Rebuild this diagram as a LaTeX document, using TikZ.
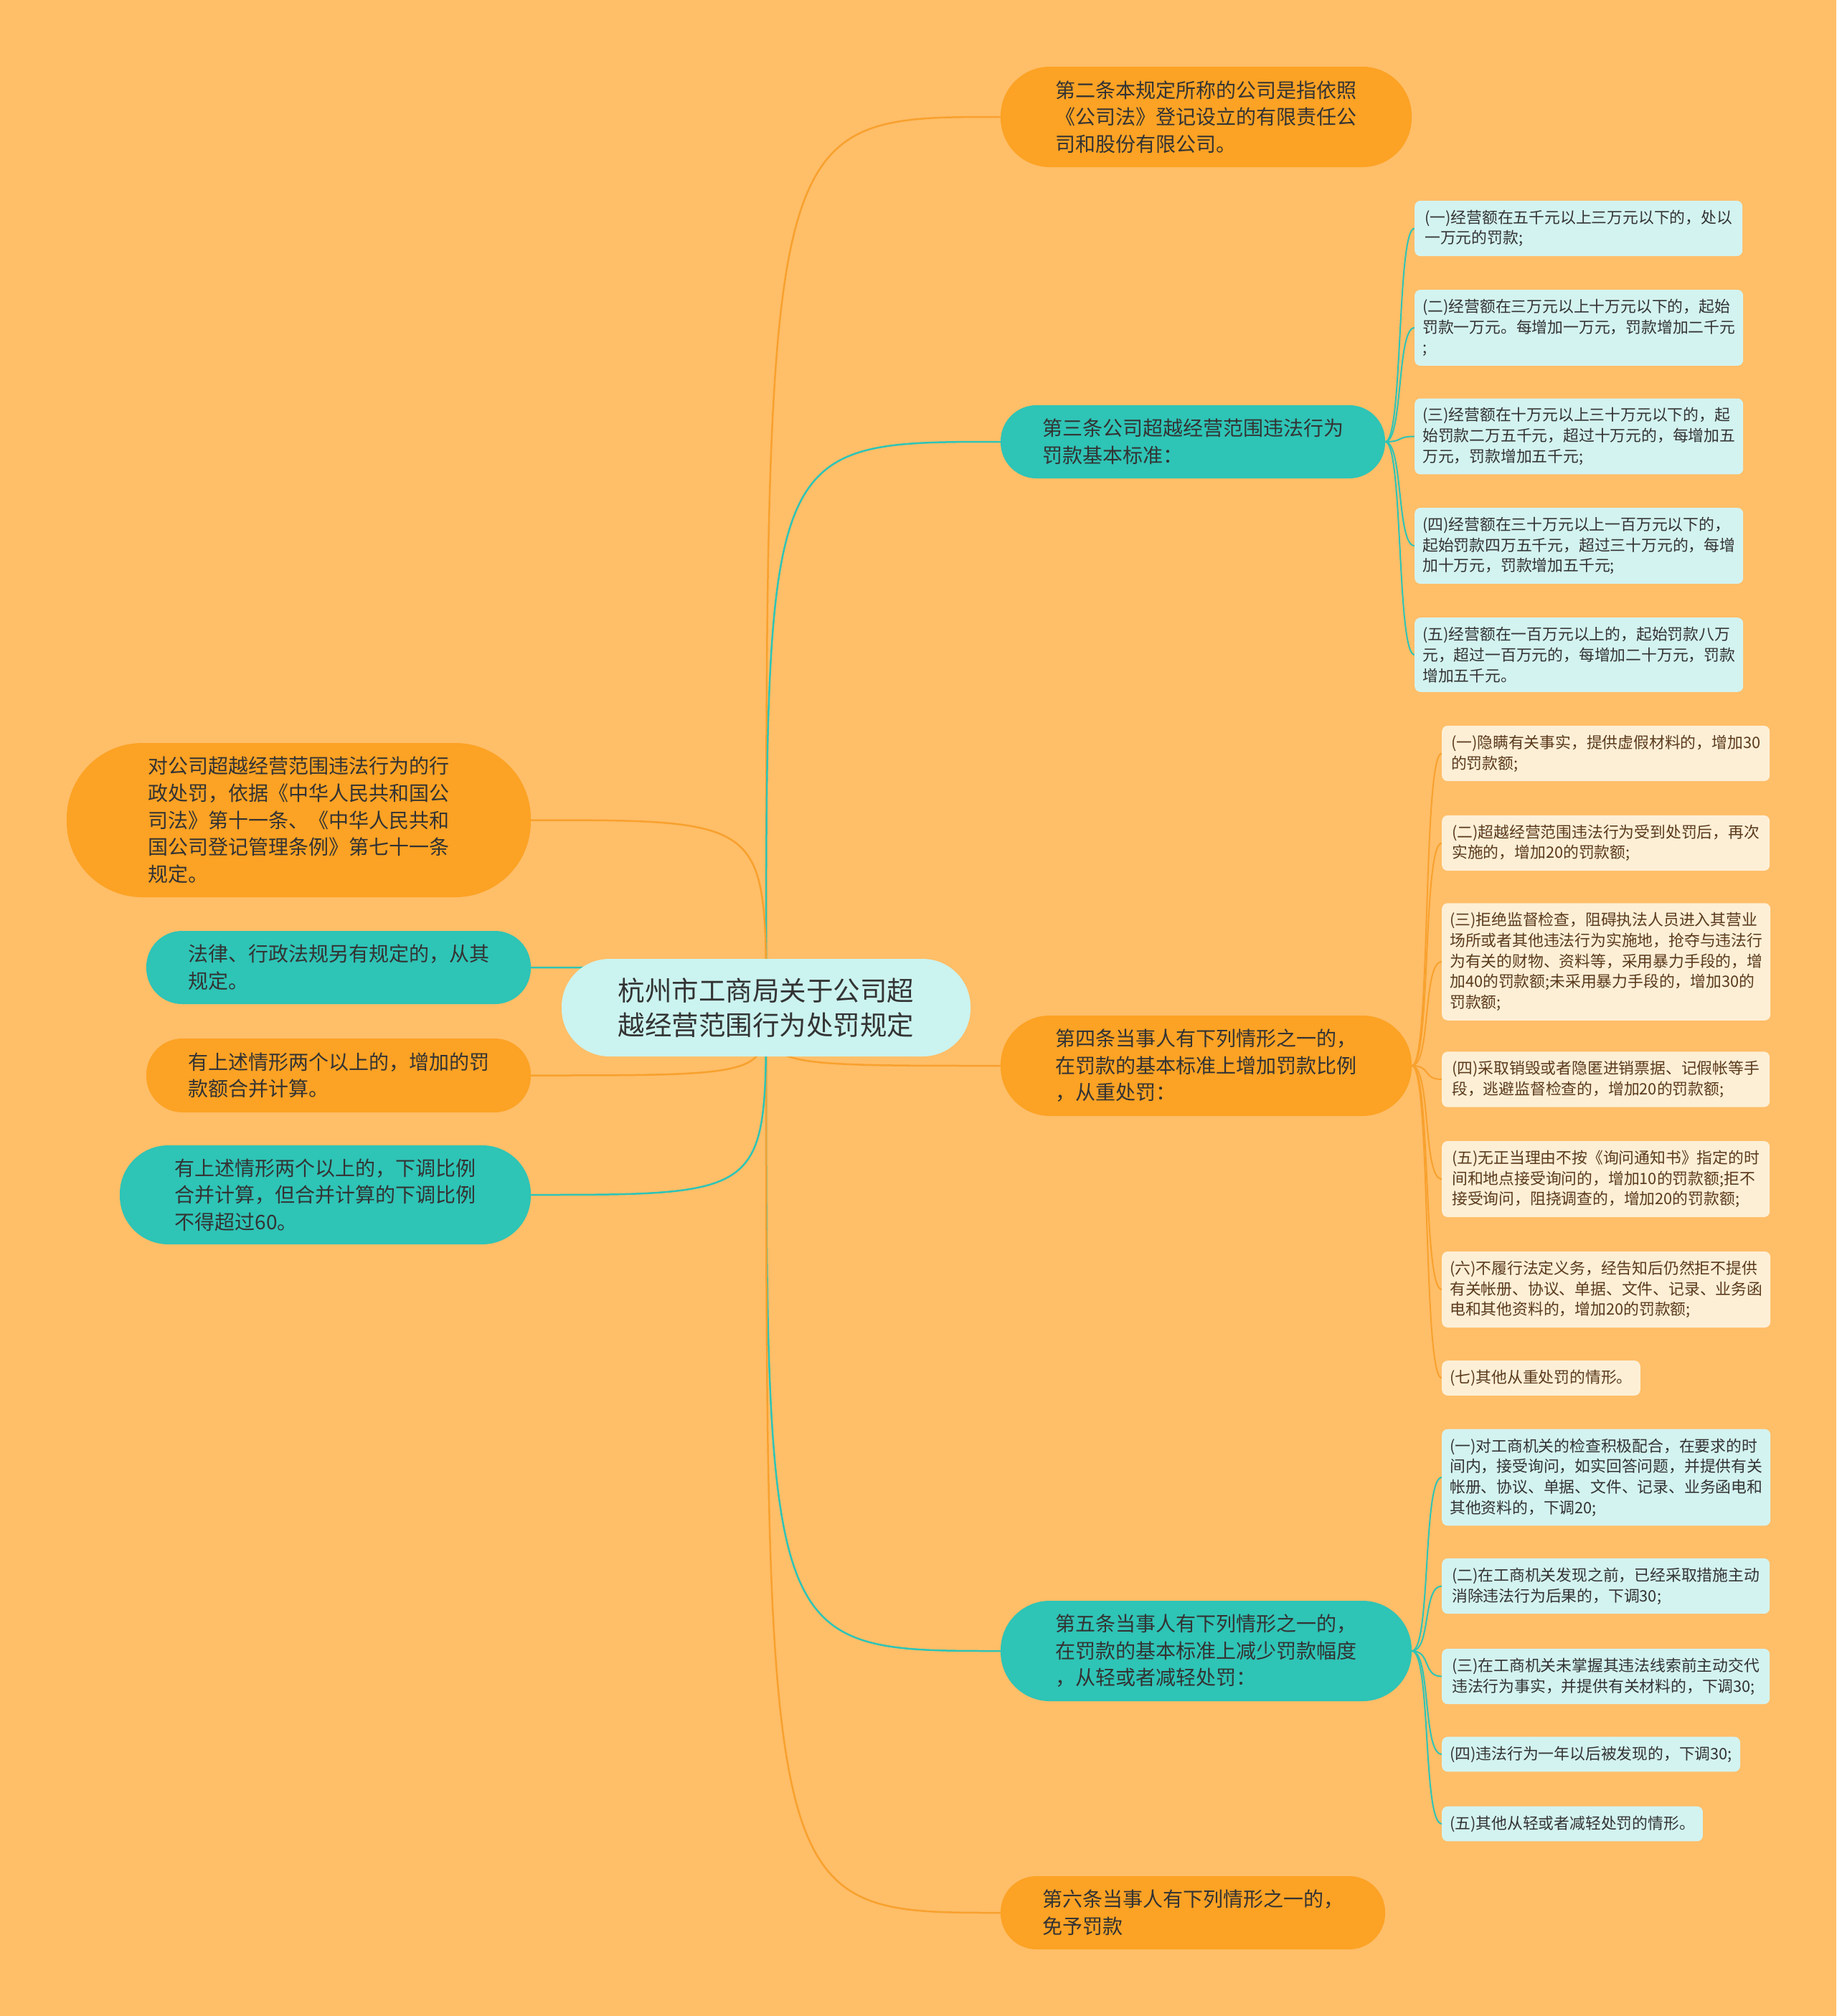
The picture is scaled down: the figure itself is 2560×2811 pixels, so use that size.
\documentclass[tikz,border=0pt]{standalone}
\usepackage{fontspec}
\setmainfont{Noto Sans CJK SC}
\definecolor{bgorange}{HTML}{FFBE68}
\definecolor{nodeorange}{HTML}{FCA224}
\definecolor{nodeteal}{HTML}{2EC4B6}
\definecolor{rootcyan}{HTML}{CBF3EF}
\definecolor{leafcyan}{HTML}{D3F3F0}
\definecolor{leafcream}{HTML}{FDEFD6}
\definecolor{lineorange}{HTML}{F8A12E}
\definecolor{lineteal}{HTML}{2EC4B6}
\definecolor{inkdark}{HTML}{333333}
\definecolor{inkbrown}{HTML}{5A3A1C}
\pgfdeclarelayer{edges}
\pgfsetlayers{edges,main}
\tikzset{
  pill/.style 2 args={minimum width=#1, minimum height=#2, rounded corners=0.49*#2},
  mainbox/.style={align=left, inner sep=0pt, text=inkdark,
    font=\fontsize{28}{37.6}\selectfont},
  orangebox/.style={mainbox, fill=nodeorange},
  tealbox/.style={mainbox, fill=nodeteal},
  leafbox/.style={anchor=west, align=left, inner xsep=11pt, inner ysep=13pt,
    rounded corners=8pt, font=\fontsize{21.8}{28.7}\selectfont},
  cyanleaf/.style={leafbox, fill=leafcyan, text=inkdark},
  creamleaf/.style={leafbox, fill=leafcream, text=inkbrown},
  wide/.style={minimum width=457pt},
  link/.style={line width=2.5pt},
  twig/.style={line width=2pt}
}
\begin{document}
\begin{tikzpicture}[x=1pt,y=-1pt]
  \useasboundingbox (0,0) rectangle (2560,2811);
  % centre
  \node (title) [mainbox, fill=rootcyan, pill={570pt}{136pt},
    font=\fontsize{37.5}{48.4}\selectfont] at (1068,1405)
    {杭州市工商局关于公司超\\越经营范围行为处罚规定};
  % right side
  \node (art2) [orangebox, pill={573pt}{140pt}] at (1681.5,163)
    {第二条本规定所称的公司是指依照\\《公司法》登记设立的有限责任公\\司和股份有限公司。};
  \node (art3) [tealbox, pill={536pt}{102pt}] at (1663,616)
    {第三条公司超越经营范围违法行为\\罚款基本标准：};
  \node (art4) [orangebox, pill={573pt}{140pt}] at (1681.5,1486)
    {第四条当事人有下列情形之一的，\\在罚款的基本标准上增加罚款比例\\，从重处罚：};
  \node (art5) [tealbox, pill={573pt}{140pt}] at (1681.5,2302)
    {第五条当事人有下列情形之一的，\\在罚款的基本标准上减少罚款幅度\\，从轻或者减轻处罚：};
  \node (art6) [orangebox, pill={536pt}{102pt}] at (1663,2667)
    {第六条当事人有下列情形之一的，\\免予罚款};
  % left side
  \node (basis) [orangebox, pill={647pt}{215pt}] at (416.5,1143.5)
    {对公司超越经营范围违法行为的行\\政处罚，依据《中华人民共和国公\\司法》第十一条、《中华人民共和\\国公司登记管理条例》第七十一条\\规定。};
  \node (law) [tealbox, pill={536pt}{102pt}] at (472,1349)
    {法律、行政法规另有规定的，从其\\规定。};
  \node (addsum) [orangebox, pill={536pt}{103pt}] at (472,1499.5)
    {有上述情形两个以上的，增加的罚\\款额合并计算。};
  \node (cutsum) [tealbox, pill={573pt}{138pt}] at (453.5,1666)
    {有上述情形两个以上的，下调比例\\合并计算，但合并计算的下调比例\\不得超过60。};
  % 第三条
  \node (art3_1) [cyanleaf, wide] at (1972,318.5)
    {(一)经营额在五千元以上三万元以下的，处以\\一万元的罚款;};
  \node (art3_2) [cyanleaf, wide] at (1972,457)
    {(二)经营额在三万元以上十万元以下的，起始\\罚款一万元。每增加一万元，罚款增加二千元\\;};
  \node (art3_3) [cyanleaf, wide] at (1972,608.5)
    {(三)经营额在十万元以上三十万元以下的，起\\始罚款二万五千元，超过十万元的，每增加五\\万元，罚款增加五千元;};
  \node (art3_4) [cyanleaf, wide] at (1972,761)
    {(四)经营额在三十万元以上一百万元以下的，\\起始罚款四万五千元，超过三十万元的，每增\\加十万元，罚款增加五千元;};
  \node (art3_5) [cyanleaf, wide] at (1972,913)
    {(五)经营额在一百万元以上的，起始罚款八万\\元，超过一百万元的，每增加二十万元，罚款\\增加五千元。};
  % 第四条
  \node (art4_1) [creamleaf, wide] at (2010,1050.5)
    {(一)隐瞒有关事实，提供虚假材料的，增加30\\的罚款额;};
  \node (art4_2) [creamleaf, wide] at (2010,1175.5)
    {(二)超越经营范围违法行为受到处罚后，再次\\实施的，增加20的罚款额;};
  \node (art4_3) [creamleaf, wide] at (2010,1341)
    {(三)拒绝监督检查，阻碍执法人员进入其营业\\场所或者其他违法行为实施地，抢夺与违法行\\为有关的财物、资料等，采用暴力手段的，增\\加40的罚款额;未采用暴力手段的，增加30的\\罚款额;};
  \node (art4_4) [creamleaf, wide] at (2010,1505)
    {(四)采取销毁或者隐匿进销票据、记假帐等手\\段，逃避监督检查的，增加20的罚款额;};
  \node (art4_5) [creamleaf, wide] at (2010,1644)
    {(五)无正当理由不按《询问通知书》指定的时\\间和地点接受询问的，增加10的罚款额;拒不\\接受询问，阻挠调查的，增加20的罚款额;};
  \node (art4_6) [creamleaf, wide] at (2010,1798)
    {(六)不履行法定义务，经告知后仍然拒不提供\\有关帐册、协议、单据、文件、记录、业务函\\电和其他资料的，增加20的罚款额;};
  \node (art4_7) [creamleaf] at (2010,1921.5)
    {(七)其他从重处罚的情形。};
  % 第五条
  \node (art5_1) [cyanleaf, wide] at (2010,2060)
    {(一)对工商机关的检查积极配合，在要求的时\\间内，接受询问，如实回答问题，并提供有关\\帐册、协议、单据、文件、记录、业务函电和\\其他资料的，下调20;};
  \node (art5_2) [cyanleaf, wide] at (2010,2211.5)
    {(二)在工商机关发现之前，已经采取措施主动\\消除违法行为后果的，下调30;};
  \node (art5_3) [cyanleaf, wide] at (2010,2337.5)
    {(三)在工商机关未掌握其违法线索前主动交代\\违法行为事实，并提供有关材料的，下调30;};
  \node (art5_4) [cyanleaf] at (2010,2446)
    {(四)违法行为一年以后被发现的，下调30;};
  \node (art5_5) [cyanleaf] at (2010,2543)
    {(五)其他从轻或者减轻处罚的情形。};
  % connectors under the boxes
  \begin{pgfonlayer}{edges}
    \fill[bgorange] (0,0) rectangle (2560,2811);
    \foreach \n/\c in {art2/lineorange, art3/lineteal, art4/lineorange,
                       art5/lineteal, art6/lineorange}
      \draw[link, \c] (title.center) .. controls (title.center |- \n.west) .. (\n.west);
    \foreach \n/\c in {basis/lineorange, law/lineteal, addsum/lineorange,
                       cutsum/lineteal}
      \draw[link, \c] (title.center) .. controls (title.center |- \n.east) .. (\n.east);
    \foreach \i in {1,...,5}
      \draw[twig, lineteal] (art3.east) .. controls +(25,0) and +(-25,0) .. (art3_\i.west);
    \foreach \i in {1,...,7}
      \draw[twig, lineorange] (art4.east) .. controls +(27,0) and +(-27,0) .. (art4_\i.west);
    \foreach \i in {1,...,5}
      \draw[twig, lineteal] (art5.east) .. controls +(27,0) and +(-27,0) .. (art5_\i.west);
  \end{pgfonlayer}
\end{tikzpicture}
\end{document}
